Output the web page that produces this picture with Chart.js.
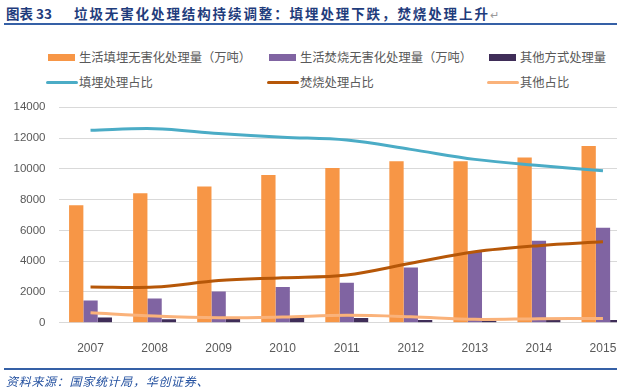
<!DOCTYPE html>
<html>
<head>
<meta charset="utf-8">
<script src="https://cdn.jsdelivr.net/npm/chart.js@4/dist/chart.umd.min.js"></script>
<style>
  html, body { margin: 0; padding: 0; background: #fff; }
  #page { position: relative; width: 620px; height: 391px; overflow: hidden; background: #fff; font-family: "Noto Sans CJK SC", sans-serif; }
  .title { position: absolute; top: 4px; font-weight: bold; font-size: 13.5px; color: #1f3c7c; white-space: nowrap; line-height: 18px; }
  .rule { position: absolute; left: 4px; width: 613px; height: 2px; background: #3560a6; }
  .lg { position: absolute; height: 16px; line-height: 16px; font-size: 12.3px; color: #595959; white-space: nowrap; }
  .lg i { position: absolute; display: block; }
  .lg span { position: absolute; left: 31px; top: 0; }
  #plot { position: absolute; left: 0; top: 0; width: 617px; height: 391px; overflow: hidden; }
  #plot .inner { position: relative; width: 635px; height: 391px; }
  .source { position: absolute; left: 6px; top: 372px; font-size: 12px; font-style: italic; color: #2451a0; letter-spacing: 0.7px; white-space: nowrap; }
</style>
</head>
<body>
<div id="page">
  <div class="title" style="left:6px;">图表 33</div>
  <div class="title" style="left:74px;letter-spacing:1.9px;">垃圾无害化处理结构持续调整：填埋处理下跌，焚烧处理上升<span style="font-weight:normal;color:#9a9a9a;font-size:11px;letter-spacing:0;">↵</span></div>
  <div class="rule" style="top:23px;"></div>

  <div id="legend"></div>

  <div id="plot"><div class="inner"><canvas id="chart"></canvas></div></div>

  <div class="rule" style="top:368px;"></div>
  <div class="source">资料来源：国家统计局，华创证券、</div>
</div>

<script>
// categories
const years = ['2007', '2008', '2009', '2010', '2011', '2012', '2013', '2014', '2015'];

// bar series (万吨)
const landfillVolume = [7630, 8420, 8850, 9600, 10050, 10500, 10490, 10740, 11480];
const incinerationVolume = [1435, 1570, 2020, 2320, 2600, 3580, 4630, 5330, 6175];
const otherVolume = [330, 230, 260, 330, 310, 180, 130, 180, 180];

// line series (share, %), plotted on a hidden secondary axis
const landfillShare = [80.9, 81.6, 79.6, 78.0, 76.8, 72.9, 68.7, 66.1, 63.9];
const incinerationShare = [15.0, 15.0, 17.7, 18.9, 20.1, 25.0, 29.8, 32.4, 34.0];
const otherShare = [4.2, 2.8, 2.1, 2.4, 3.1, 2.5, 1.4, 1.7, 1.8];

// left axis ticks
const volumeMax = 14000;
const volumeStep = 2000;
// hidden right axis range (share that lines up with 14000 on the left)
const shareMax = 90.6;

const barLabels = ['生活填埋无害化处理量（万吨）', '生活焚烧无害化处理量（万吨）', '其他方式处理量'];
const lineLabels = ['填埋处理占比', '焚烧处理占比', '其他占比'];
const barColors = ['#f79646', '#8064a2', '#3f2d58'];
const lineColors = ['#4bacc6', '#b65708', '#fab27a'];

// legend: two rows, three fixed columns
(function buildLegend() {
  const lg = document.getElementById('legend');
  const cols = [46, 267, 487];
  let html = '';
  barLabels.forEach((l, i) => {
    html += `<div class="lg" style="left:${cols[i]}px;top:49px;">
      <i style="left:2px;top:5px;width:27px;height:7px;background:${barColors[i]};"></i>
      <span style="left:33px;">${l}</span></div>`;
  });
  lineLabels.forEach((l, i) => {
    html += `<div class="lg" style="left:${cols[i]}px;top:74px;">
      <i style="left:0;top:7px;width:32px;height:3px;border-radius:1.5px;background:${lineColors[i]};"></i>
      <span style="left:33px;">${l}</span></div>`;
  });
  lg.innerHTML = html;
})();

const lineDs = (label, data, color) => ({
  type: 'line', label, data, yAxisID: 'y1', order: 0,
  borderColor: color, backgroundColor: color, borderWidth: 3,
  pointRadius: 0, tension: 0.35, fill: false,
});
const barDs = (label, data, color) => ({
  type: 'bar', label, data, yAxisID: 'y', order: 1,
  backgroundColor: color, borderWidth: 0,
  categoryPercentage: 0.67, barPercentage: 1.0,
});

new Chart(document.getElementById('chart'), {
  data: {
    labels: years,
    datasets: [
      barDs(barLabels[0], landfillVolume, barColors[0]),
      barDs(barLabels[1], incinerationVolume, barColors[1]),
      barDs(barLabels[2], otherVolume, barColors[2]),
      lineDs(lineLabels[0], landfillShare, lineColors[0]),
      lineDs(lineLabels[1], incinerationShare, lineColors[1]),
      lineDs(lineLabels[2], otherShare, lineColors[2]),
    ],
  },
  options: {
    animation: false, responsive: true, maintainAspectRatio: false,
    layout: { padding: { top: 107.3, left: 0, right: 0, bottom: 0 } },
    plugins: { legend: { display: false }, tooltip: { enabled: false } },
    scales: {
      x: {
        grid: { display: false }, border: { display: false },
        ticks: { color: '#595959', padding: 11, maxRotation: 0, font: { family: 'Liberation Sans', size: 12 } },
        afterFit: s => { s.height = 68.3; },
      },
      y: {
        min: 0, max: volumeMax,
        ticks: { stepSize: volumeStep, color: '#595959', padding: 13, callback: v => String(v), font: { family: 'Liberation Sans', size: 11.5 } },
        grid: { color: '#d9d9d9', lineWidth: 1, drawTicks: false },
        border: { display: false },
        afterFit: s => { s.width = 58.5; },
      },
      y1: { display: false, min: 0, max: shareMax, position: 'right' },
    },
  },
});
</script>
</body>
</html>
